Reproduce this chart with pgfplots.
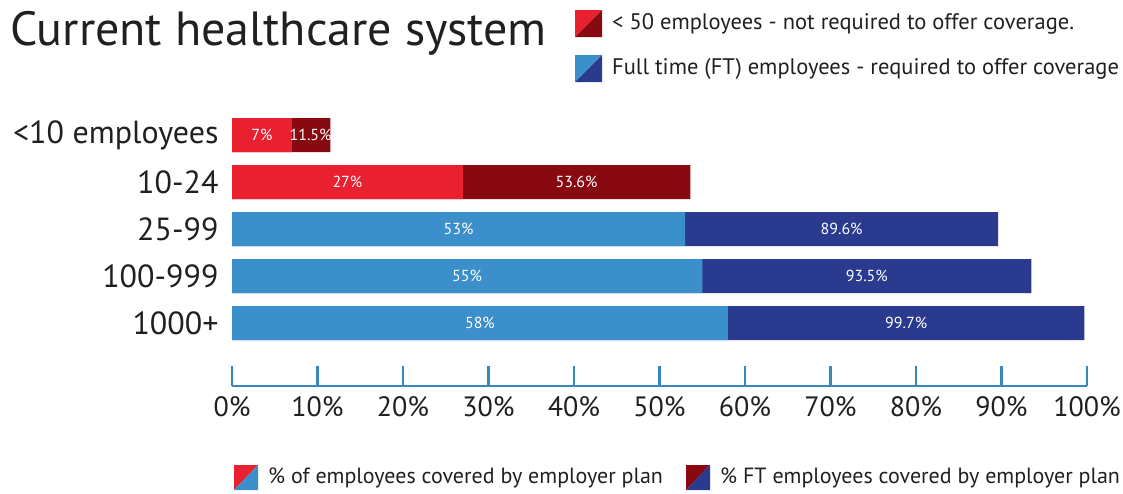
\documentclass[border=0pt]{standalone}
\usepackage{pgfplots}
\pgfplotsset{compat=1.18}
\usepackage{fontspec}
\setmainfont{PT Sans}
\definecolor{lred}{HTML}{E8202F}
\definecolor{dred}{HTML}{880A10}
\definecolor{lblue}{HTML}{3B8FCB}
\definecolor{dblue}{HTML}{2A3A8F}
\definecolor{axblue}{HTML}{3A86BF}
\definecolor{txt}{HTML}{231F20}

\begin{document}
\begin{tikzpicture}[x=1pt,y=1pt]
\useasboundingbox (0,0) rectangle (1123,-493);
\begin{axis}[
  at={(232pt,-386pt)}, anchor=south west, scale only axis,
  width=855pt, height=274.5pt,
  xmin=0, xmax=100, ymin=-1.34, ymax=4.5,
  axis lines*=left,
  y axis line style={draw=none},
  ytick style={draw=none},
  x axis line style={axblue, line width=2.5pt},
  xtick style={axblue, line width=2.5pt},
  tick align=inside,
  major tick length=20pt,
  xtick={0,10,...,100},
  xticklabels={0\%,10\%,20\%,30\%,40\%,50\%,60\%,70\%,80\%,90\%,100\%},
  ytick={0,1,2,3,4},
  yticklabels={1000+,100-999,25-99,10-24,<10 employees},
  xticklabel style={font=\fontsize{28}{28}\selectfont, text=txt, yshift=-7pt},
  yticklabel style={font=\fontsize{32}{32}\selectfont, text=txt, xshift=-10pt},
]
\addplot[xbar, bar shift=0pt, bar width=34pt, fill=dred, draw=none]
  coordinates {(11.5,4) (53.6,3)};
\addplot[xbar, bar shift=0pt, bar width=34pt, fill=lred, draw=none]
  coordinates {(7,4) (27,3)};
\addplot[xbar, bar shift=0pt, bar width=34pt, fill=dblue, draw=none]
  coordinates {(89.6,2) (93.5,1) (99.7,0)};
\addplot[xbar, bar shift=0pt, bar width=34pt, fill=lblue, draw=none]
  coordinates {(53,2) (55,1) (58,0)};
% segment labels
\addplot[draw=none, mark=none, nodes near coords, point meta=explicit symbolic,
  every node near coord/.append style={anchor=center, text=white,
    font=\fontsize{16}{16}\selectfont}]
  coordinates {
    (3.5,4) [7\%]
    (9.25,4) [\kern-1pt11.5\%]
    (13.5,3) [27\%]
    (40.3,3) [53.6\%]
    (26.5,2) [53\%]
    (71.3,2) [89.6\%]
    (27.5,1) [55\%]
    (74.25,1) [93.5\%]
    (29,0) [58\%]
    (78.85,0) [99.7\%]
  };
\end{axis}
% title
\node[anchor=base west, inner sep=0, text=txt, font=\fontsize{48}{48}\selectfont]
  at (10,-45) {Current healthcare system};
% top legend
\fill[lred] (575,-10) -- (602,-10) -- (575,-37) -- cycle;
\fill[dred] (602,-10) -- (602,-37) -- (575,-37) -- cycle;
\node[anchor=west, inner sep=0, text=txt, font=\fontsize{22.5}{22.5}\selectfont]
  at (612,-24) {< 50 employees - not required to offer coverage.};
\fill[lblue] (575,-55) -- (602,-55) -- (575,-82) -- cycle;
\fill[dblue] (602,-55) -- (602,-82) -- (575,-82) -- cycle;
\node[anchor=west, inner sep=0, text=txt, font=\fontsize{22.5}{22.5}\selectfont]
  at (612,-69) {Full time (FT) employees - required to offer coverage};
% bottom legend
\fill[lred] (234,-465) -- (258,-465) -- (234,-490) -- cycle;
\fill[lblue] (258,-465) -- (258,-490) -- (234,-490) -- cycle;
\node[anchor=west, inner sep=0, text=txt, font=\fontsize{22}{22}\selectfont]
  at (268,-478) {\% of employees covered by employer plan};
\fill[dred] (686,-465) -- (710,-465) -- (686,-490) -- cycle;
\fill[dblue] (710,-465) -- (710,-490) -- (686,-490) -- cycle;
\node[anchor=west, inner sep=0, text=txt, font=\fontsize{22}{22}\selectfont]
  at (720,-478) {\% FT employees covered by employer plan};
\end{tikzpicture}
\end{document}
